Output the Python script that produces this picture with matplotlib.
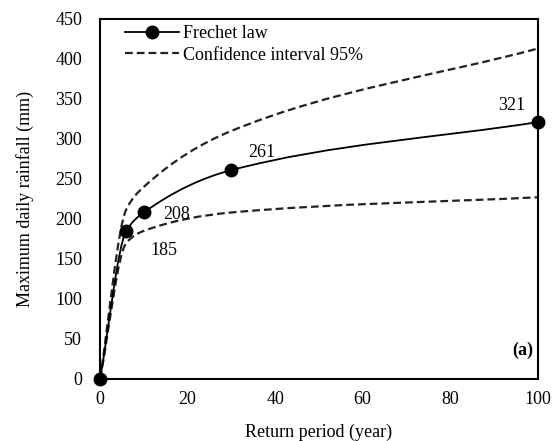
import numpy as np
import matplotlib
matplotlib.use('Agg')
import matplotlib.pyplot as plt
from matplotlib.path import Path
from matplotlib.patches import PathPatch
from matplotlib.lines import Line2D

plt.rcParams['font.family'] = ['Liberation Serif', 'DejaVu Serif']
plt.rcParams['font.size'] = 13

# data
period = [0, 6, 10, 30, 100]
rain = [0, 185, 208, 261, 321]
ci_upper = [0, 212, 240, 310, 413]
ci_lower = [0, 170, 185, 208, 227]
labels = ['185', '208', '261', '321']
label_pos = [(14.5, 160), (17.5, 205), (37, 283), (94, 342)]


def slopes(x, y):
    # harmonic-mean tangents inside, end tangents = end secants
    h = np.diff(x)
    d = np.diff(y) / h
    n = len(x)
    m = np.zeros(n)
    for k in range(1, n - 1):
        if d[k - 1] * d[k] <= 0:
            m[k] = 0
        else:
            w1 = 2 * h[k] + h[k - 1]
            w2 = h[k] + 2 * h[k - 1]
            m[k] = (w1 + w2) / (w1 / d[k - 1] + w2 / d[k])
    m[0] = d[0]
    m[-1] = d[-1]
    return m


def smooth_path(x, y):
    x = np.asarray(x, float)
    y = np.asarray(y, float)
    m = slopes(x, y)
    verts = [(x[0], y[0])]
    codes = [Path.MOVETO]
    for i in range(len(x) - 1):
        h = x[i + 1] - x[i]
        verts += [(x[i] + h / 3, y[i] + m[i] * h / 3),
                  (x[i + 1] - h / 3, y[i + 1] - m[i + 1] * h / 3),
                  (x[i + 1], y[i + 1])]
        codes += [Path.CURVE4] * 3
    return Path(verts, codes)


fig = plt.figure(figsize=(5.59, 4.41), dpi=100)
ax = fig.add_axes([0.179, 0.141, 0.783, 0.816])

dash = (0, (3.5, 1.8))
ax.add_patch(PathPatch(smooth_path(period, ci_upper), fill=False, color='#222222',
                       lw=1.6, ls=dash))
ax.add_patch(PathPatch(smooth_path(period, ci_lower), fill=False, color='#222222',
                       lw=1.6, ls=dash))
ax.add_patch(PathPatch(smooth_path(period, rain), fill=False, color='black', lw=1.3))
ax.plot(period, rain, 'o', color='black', ms=9, zorder=5, clip_on=False)

for t, (lx, ly) in zip(labels, label_pos):
    ax.text(lx, ly, t, ha='center', va='center', fontsize=13)

ax.text(0.99, 0.08, '(a)', transform=ax.transAxes, ha='right', va='center',
        fontsize=13, fontweight='bold')

ax.set_xlim(0, 100)
ax.set_ylim(0, 450)
ax.set_xticks(range(0, 101, 20))
ax.set_yticks(range(0, 451, 50))
ax.tick_params(axis='y', length=0, pad=13, labelsize=13)
ax.tick_params(axis='x', length=0, pad=9, labelsize=13)
for s in ax.spines.values():
    s.set_linewidth(1.5)

ax.set_xlabel('Return period (year)', fontsize=13, labelpad=11)
ax.set_ylabel('Maximum daily rainfall (mm)', fontsize=13, labelpad=15)

handles = [Line2D([], [], color='black', lw=1.3, marker='o', ms=9),
           Line2D([], [], color='#222222', lw=1.6, ls=dash)]
ax.legend(handles, ['Frechet law', 'Confidence interval 95%'], loc='upper left',
          bbox_to_anchor=(0.057, 0.983), frameon=False, handlelength=3.0,
          handletextpad=0.2, borderaxespad=0, borderpad=0,
          labelspacing=0.25, fontsize=13)

fig.savefig('out.png', dpi=100)
